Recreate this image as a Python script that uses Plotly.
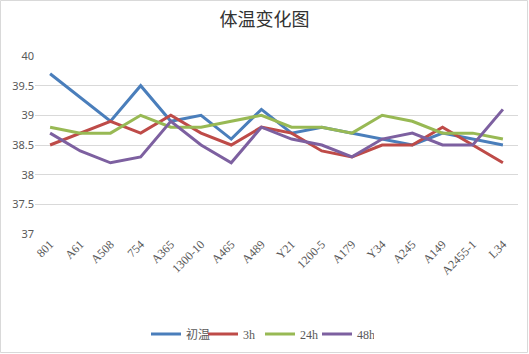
import plotly.graph_objects as go

categories = ["801", "A61", "A508", "754", "A365", "1300-10", "A465", "A489",
              "Y21", "1200-5", "A179", "Y34", "A245", "A149", "A2455-1", "L34"]
series_names = ["初温", "3h", "24h", "48h"]
t0 = [39.7, 39.3, 38.9, 39.5, 38.9, 39.0, 38.6, 39.1, 38.7, 38.8, 38.7, 38.6, 38.5, 38.7, 38.6, 38.5]
t3 = [38.5, 38.7, 38.9, 38.7, 39.0, 38.7, 38.5, 38.8, 38.7, 38.4, 38.3, 38.5, 38.5, 38.8, 38.5, 38.2]
t24 = [38.8, 38.7, 38.7, 39.0, 38.8, 38.8, 38.9, 39.0, 38.8, 38.8, 38.7, 39.0, 38.9, 38.7, 38.7, 38.6]
t48 = [38.7, 38.4, 38.2, 38.3, 38.9, 38.5, 38.2, 38.8, 38.6, 38.5, 38.3, 38.6, 38.7, 38.5, 38.5, 39.1]
y_ticks = [37, 37.5, 38, 38.5, 39, 39.5, 40]
colors = ["#4A7EBB", "#BE4B48", "#98B954", "#7D60A0"]

fig = go.Figure()
for name, vals, col in zip(series_names, [t0, t3, t24, t48], colors):
    fig.add_trace(go.Scatter(x=categories, y=vals, mode="lines", name=name,
                             line=dict(color=col, width=3)))

W, H = 529, 354
L, R, T, B = 35, 11, 56, 120
pw, ph = W - L - R, H - T - B

fig.update_layout(
    width=W, height=H,
    margin=dict(l=L, r=R, t=T, b=B, autoexpand=False),
    paper_bgcolor="white", plot_bgcolor="white",
    title=dict(text="体温变化图", x=0.5, xanchor="center", xref="container",
               y=1 - 20 / H, yanchor="middle", yref="container",
               font=dict(family="Noto Sans CJK SC", size=18, color="#333333")),
    xaxis=dict(type="category", range=[-0.5, 15.5], showgrid=False, showline=False,
               ticks="", tickangle=-45, automargin=False,
               tickfont=dict(family="Liberation Serif, DejaVu Serif, serif", size=12, color="#595959")),
    yaxis=dict(range=[37, 40], tickvals=y_ticks, ticktext=[str(v) for v in y_ticks],
               showgrid=True, gridcolor="#D9D9D9", gridwidth=1, zeroline=False,
               showline=False, ticks="", automargin=False,
               tickfont=dict(family="Noto Sans, sans-serif", size=11, color="#595959")),
    legend=dict(orientation="h", xref="container", yref="container",
                x=260 / W, xanchor="center", y=1 - 334 / H, yanchor="middle",
                itemwidth=30, entrywidth=12, entrywidthmode="pixels",
                font=dict(family="Liberation Serif, Noto Sans CJK SC, serif", size=12, color="#595959"),
                tracegroupgap=0),
    showlegend=True,
)

fig.add_shape(type="rect", xref="paper", yref="paper",
              x0=-(L - 0.5) / pw, x1=(W - L - 1.5) / pw,
              y0=-(B - 1.5) / ph, y1=1 + (T - 0.5) / ph,
              line=dict(color="#D9D9D9", width=1), fillcolor="rgba(0,0,0,0)", layer="below")

fig.write_html("out.html")
